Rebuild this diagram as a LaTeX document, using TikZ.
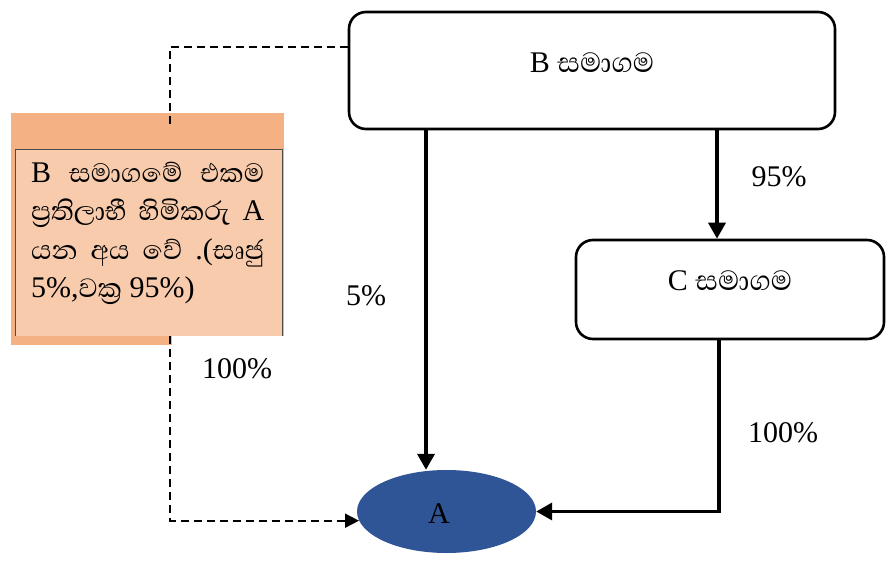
\documentclass[tikz,border=0pt]{standalone}
\usepackage{fontspec}
\setmainfont{Liberation Serif}
\newfontfamily\sinhfont[Script=Sinhala,Scale=1.13]{Abhaya Libre}
\newfontfamily\sinhbig[Script=Sinhala,Scale=1.18]{Abhaya Libre}
\usetikzlibrary{arrows.meta,shapes.geometric}
\definecolor{ellblue}{HTML}{2F5597}
\definecolor{orgdark}{HTML}{F4B183}
\definecolor{orglight}{HTML}{F8CBAD}
\tikzset{
  company/.style={draw, line width=2.6pt, rounded corners=17pt, inner sep=0pt},
  lbl/.style={font=\fontsize{30}{36}\selectfont, inner sep=0pt},
  notetxt/.style={font=\fontsize{30}{36}\selectfont, inner sep=0pt, anchor=base west},
  flow/.style={line width=3.6pt, -{Triangle[length=16pt,width=17pt]}},
  dflow/.style={line width=1.7pt, dash pattern=on 8pt off 5pt},
}
\begin{document}
\begin{tikzpicture}[x=1pt,y=-1pt]
\useasboundingbox (0,0) rectangle (890,561);
% orange note
\fill[orgdark] (11,113) rectangle (284,336);
\fill[orgdark] (11,336) rectangle (172,345);
\node[fill=orglight, minimum width=267pt, minimum height=186pt, inner sep=0pt, anchor=north west] (note) at (15,150) {};
\draw[line width=1pt, black!70] (note.south west) -- (note.north west) -- (note.north east) -- (note.south east);
\node[notetxt] (n1) at (31,183) {\hbox to 233pt{B\hfill{\sinhfont සමාගමේ}\hfill{\sinhfont එකම}}};
\node[notetxt] (n2) at (31,221) {\hbox to 233pt{{\sinhfont ප්‍රතිලාභී}\hfill{\sinhfont හිමිකරු}\hfill A}};
\node[notetxt] (n3) at (31,259) {\hbox to 233pt{{\sinhfont යන}\hfill{\sinhfont අය}\hfill{\sinhfont වේ}\hfill.({\sinhfont සෘජු}}};
\node[notetxt] (n4) at (31,297) {5\%,{\sinhfont වක්‍ර} 95\%)};
% companies
\node[company, minimum width=486pt, minimum height=117pt] (B) at (592,70.5) {};
\node[lbl] (Bt) at (592,63) {B {\sinhbig සමාගම}};
\node[company, minimum width=308pt, minimum height=99pt] (C) at (730,289.5) {};
\node[lbl] (Ct) at (730,281) {C {\sinhbig සමාගම}};
\node[ellipse, fill=ellblue, minimum width=179pt, minimum height=83pt, inner sep=0pt] (A) at (446.5,511.5) {};
\node[lbl] (At) at (439,514) {A};
% coordinates
\coordinate (xa) at (426,0);
\coordinate (xc) at (717,0);
\coordinate (xd) at (170,0);
% solid flows
\draw[flow] (xa |- B.south) -- (xa |- A.north);
\draw[flow] (xc |- B.south) -- (xc |- C.north);
\draw[flow] (C.south -| 719,0) |- (A.east);
% dashed
\draw[dflow] (B.west |- 0,47) -| (xd |- 0,128);
\draw[dflow, -{Triangle[length=14pt,width=14pt]}] (xd |- note.south) |- (A.186);
% labels
\node[lbl] (p95) at (779,177) {95\%};
\node[lbl] (p5) at (366,296) {5\%};
\node[lbl] (p100a) at (237,369) {100\%};
\node[lbl] (p100b) at (783,433) {100\%};
\end{tikzpicture}
\end{document}
